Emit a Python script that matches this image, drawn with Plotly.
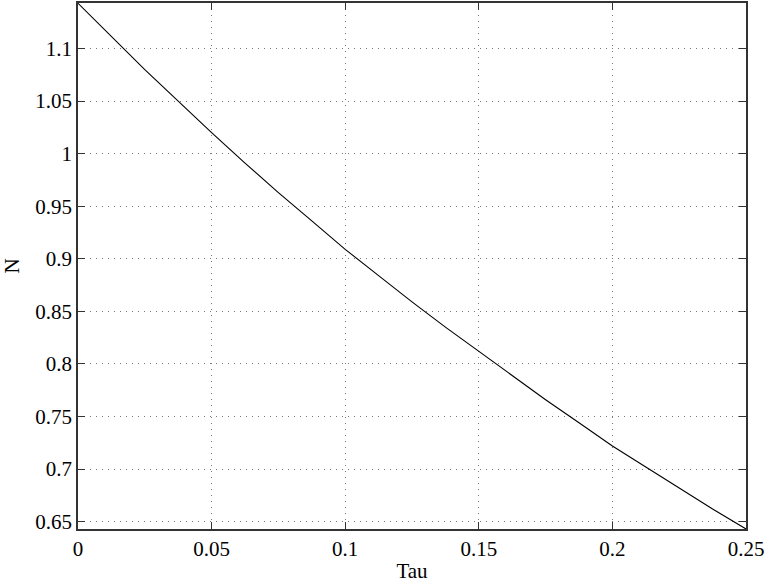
import plotly.graph_objects as go

# values
tau = [0, 0.0125, 0.025, 0.0375, 0.05, 0.0625, 0.075, 0.0875, 0.1, 0.1125,
       0.125, 0.1375, 0.15, 0.1625, 0.175, 0.1875, 0.2, 0.2125, 0.225, 0.2375, 0.25]
n_vals = [1.143, 1.111, 1.080, 1.050, 1.020, 0.991, 0.963, 0.936, 0.909, 0.884,
          0.859, 0.835, 0.812, 0.789, 0.766, 0.744, 0.722, 0.702, 0.682, 0.662, 0.643]

x_ticks = [0, 0.05, 0.1, 0.15, 0.2, 0.25]
x_labels = ['0', '0.05', '0.1', '0.15', '0.2', '0.25']
y_ticks = [0.65, 0.7, 0.75, 0.8, 0.85, 0.9, 0.95, 1.0, 1.05, 1.1]
y_labels = ['0.65', '0.7', '0.75', '0.8', '0.85', '0.9', '0.95', '1', '1.05', '1.1']

font = dict(family='Liberation Serif, Times New Roman, serif', size=21, color='black')

fig = go.Figure(go.Scatter(
    x=tau, y=n_vals, mode='lines',
    line=dict(color='black', width=1.1),
    showlegend=False,
))

axis_style = dict(
    showline=True, linecolor='#333333', linewidth=1.5, mirror='ticks',
    ticks='inside', ticklen=7, tickcolor='#333333', tickwidth=1.3,
    showgrid=True, gridcolor='#7a7a7a', griddash='1px,5px', gridwidth=1,
    zeroline=False, tickfont=font, automargin=False,
)

fig.update_xaxes(
    range=[0, 0.25], tickvals=x_ticks, ticktext=x_labels,
    title=dict(text='Tau', font=font, standoff=3), **axis_style,
)
fig.update_yaxes(
    range=[0.643, 1.1433], tickvals=y_ticks, ticktext=y_labels,
    title=dict(text='N', font=font, standoff=20), **axis_style,
)

fig.update_layout(
    width=766, height=585,
    margin=dict(l=78, r=20, t=3, b=56),
    paper_bgcolor='white', plot_bgcolor='white',
    font=font,
)

# page has a default 8px body margin; drop it so the figure fills the window
fig.write_html(
    "out.html",
    config={'displayModeBar': False},
    post_script="document.body.style.margin='0';",
)
